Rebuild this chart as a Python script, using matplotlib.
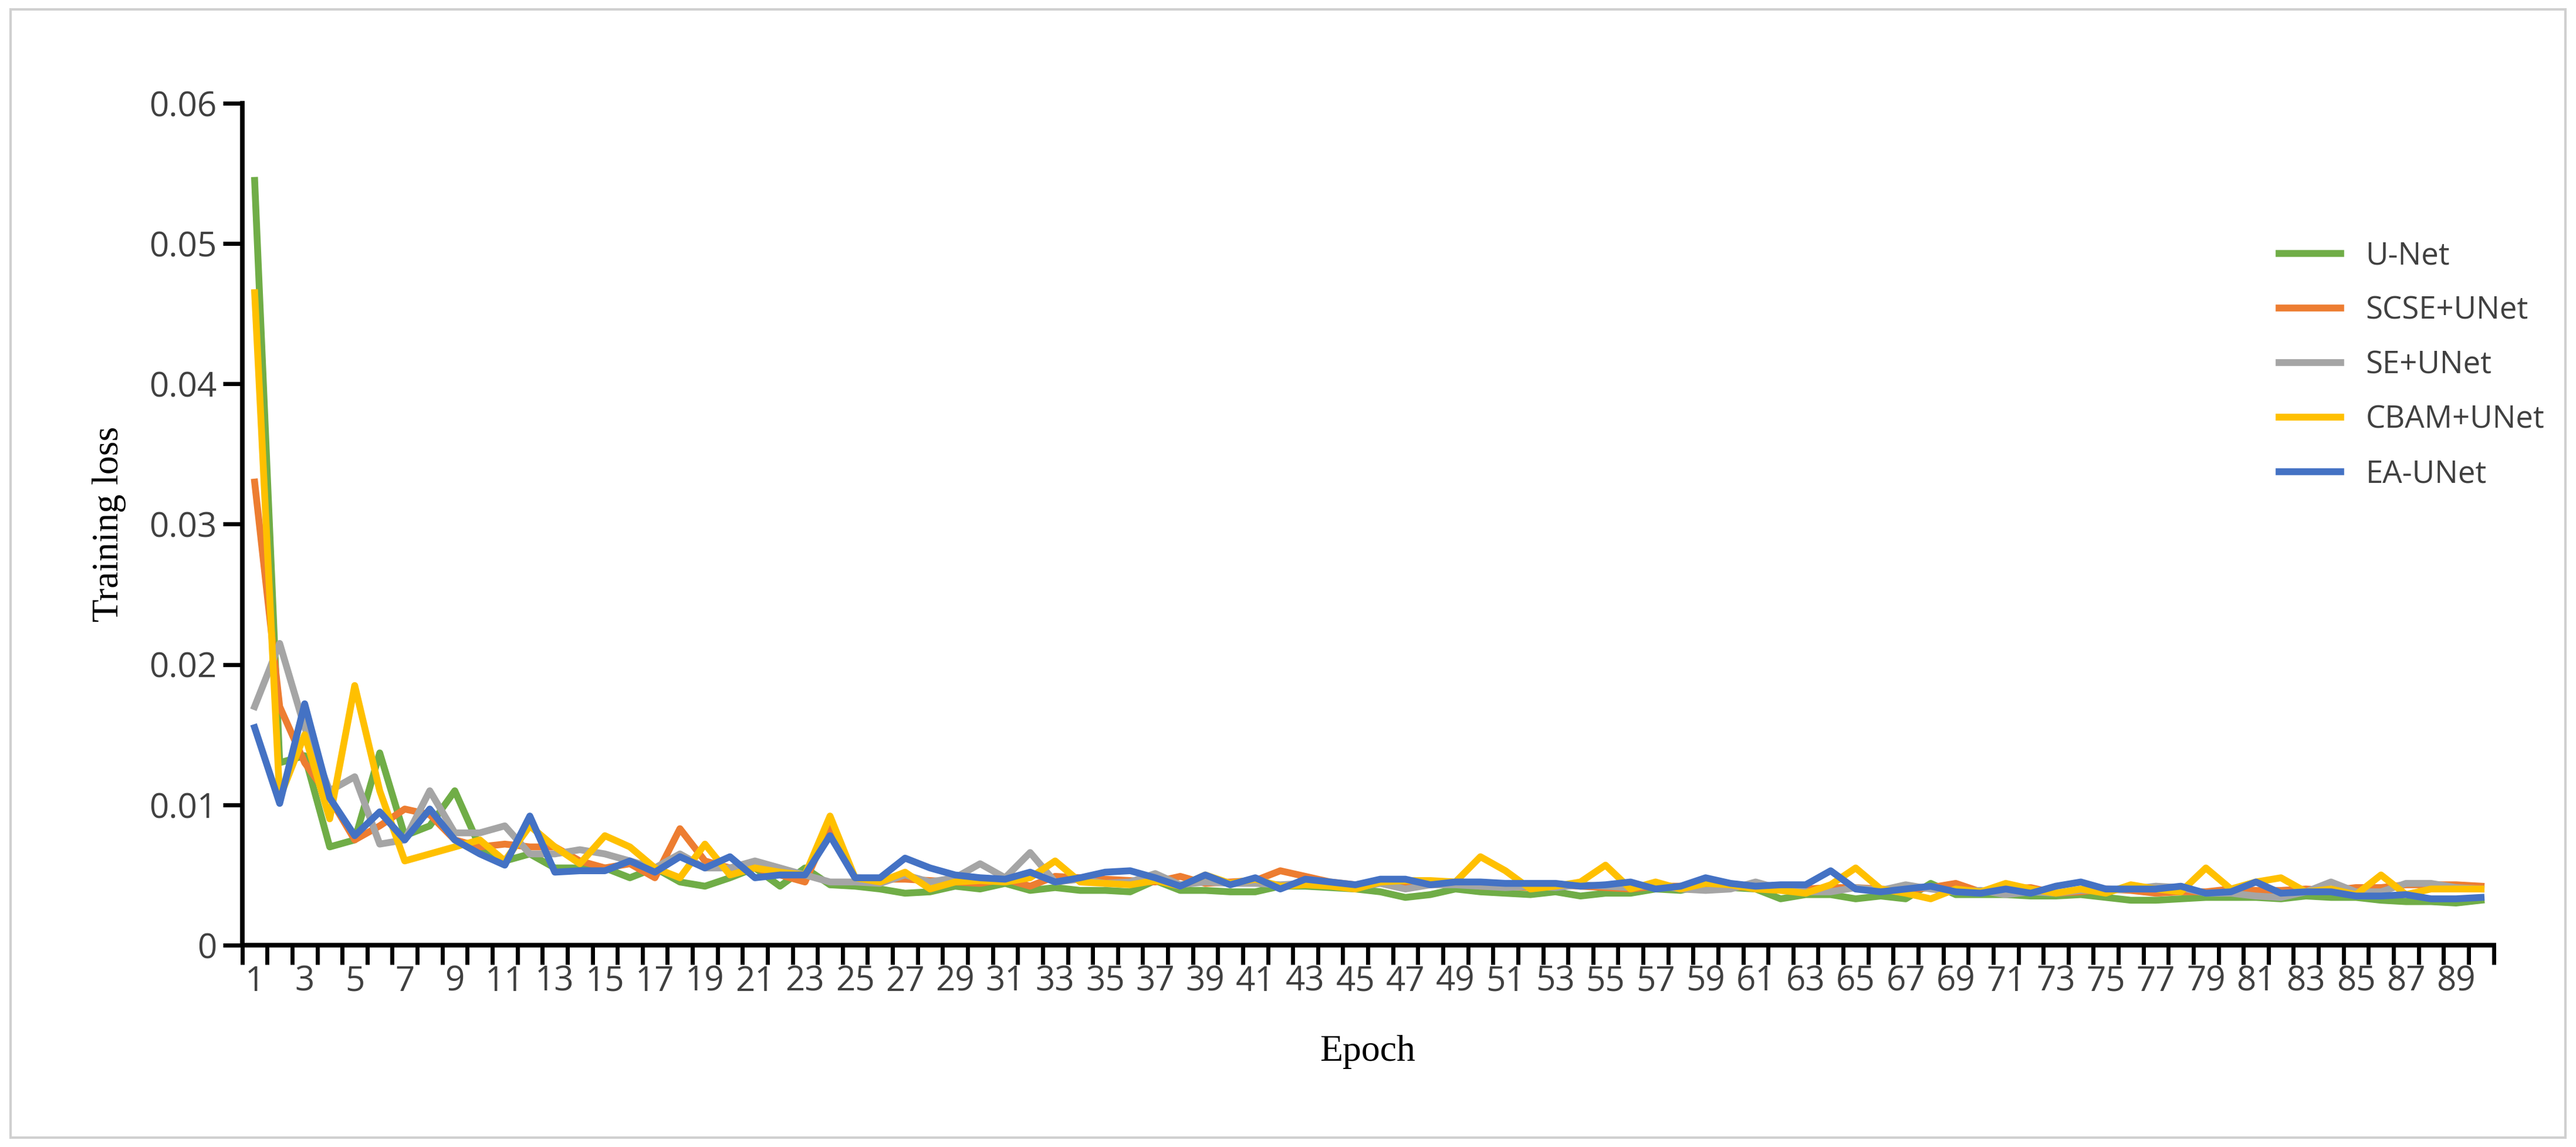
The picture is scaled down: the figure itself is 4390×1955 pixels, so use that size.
import numpy as np
import matplotlib.pyplot as plt
from matplotlib.patches import Rectangle

epochs = list(range(1, 91))

unet = [0.0545, 0.0130, 0.0135, 0.0070, 0.0075, 0.0137, 0.0078, 0.0085, 0.0110, 0.0070,
        0.0060, 0.0065, 0.0055, 0.0055, 0.0055, 0.0048, 0.0055, 0.0045, 0.0042, 0.0048,
        0.0055, 0.0042, 0.0055, 0.0043, 0.0042, 0.0040, 0.0037, 0.0038, 0.0042, 0.0040,
        0.0044, 0.0039, 0.0041, 0.0039, 0.0039, 0.0038, 0.0046, 0.0039, 0.0039, 0.0038,
        0.0038, 0.0042, 0.0042, 0.0041, 0.0040, 0.0038, 0.0034, 0.0036, 0.0040, 0.0038,
        0.0037, 0.0036, 0.0038, 0.0035, 0.0037, 0.0037, 0.0040, 0.0039, 0.0043, 0.0041,
        0.0040, 0.0033, 0.0036, 0.0036, 0.0033, 0.0035, 0.0033, 0.0044, 0.0036, 0.0036,
        0.0036, 0.0035, 0.0035, 0.0036, 0.0034, 0.0032, 0.0032, 0.0033, 0.0034, 0.0034,
        0.0034, 0.0033, 0.0035, 0.0034, 0.0034, 0.0032, 0.0031, 0.0031, 0.0030, 0.0032]
scse = [0.0330, 0.0170, 0.0130, 0.0105, 0.0075, 0.0085, 0.0097, 0.0093, 0.0075, 0.0070,
        0.0072, 0.0070, 0.0070, 0.0060, 0.0055, 0.0058, 0.0048, 0.0083, 0.0060, 0.0055,
        0.0055, 0.0050, 0.0045, 0.0085, 0.0048, 0.0047, 0.0047, 0.0046, 0.0045, 0.0044,
        0.0047, 0.0042, 0.0049, 0.0048, 0.0047, 0.0046, 0.0045, 0.0049, 0.0044, 0.0045,
        0.0046, 0.0053, 0.0049, 0.0045, 0.0043, 0.0045, 0.0043, 0.0044, 0.0044, 0.0042,
        0.0042, 0.0041, 0.0043, 0.0042, 0.0041, 0.0040, 0.0042, 0.0042, 0.0043, 0.0041,
        0.0042, 0.0040, 0.0040, 0.0041, 0.0041, 0.0040, 0.0039, 0.0041, 0.0044, 0.0038,
        0.0040, 0.0041, 0.0037, 0.0038, 0.0040, 0.0039, 0.0037, 0.0038, 0.0038, 0.0040,
        0.0039, 0.0039, 0.0040, 0.0039, 0.0041, 0.0041, 0.0043, 0.0043, 0.0043, 0.0042]
se = [0.0170, 0.0215, 0.0155, 0.0110, 0.0120, 0.0072, 0.0075, 0.0110, 0.0080, 0.0080,
      0.0085, 0.0065, 0.0065, 0.0068, 0.0065, 0.0060, 0.0055, 0.0065, 0.0055, 0.0055,
      0.0060, 0.0055, 0.0050, 0.0045, 0.0045, 0.0044, 0.0050, 0.0045, 0.0048, 0.0058,
      0.0048, 0.0066, 0.0045, 0.0047, 0.0044, 0.0045, 0.0051, 0.0043, 0.0045, 0.0044,
      0.0044, 0.0043, 0.0044, 0.0043, 0.0041, 0.0044, 0.0040, 0.0043, 0.0043, 0.0042,
      0.0041, 0.0042, 0.0041, 0.0043, 0.0042, 0.0041, 0.0043, 0.0040, 0.0039, 0.0040,
      0.0045, 0.0040, 0.0038, 0.0038, 0.0041, 0.0039, 0.0043, 0.0040, 0.0038, 0.0039,
      0.0036, 0.0038, 0.0037, 0.0039, 0.0039, 0.0040, 0.0042, 0.0041, 0.0037, 0.0037,
      0.0035, 0.0034, 0.0038, 0.0045, 0.0038, 0.0038, 0.0044, 0.0044, 0.0041, 0.0040]
cbam = [0.0465, 0.0105, 0.0150, 0.0090, 0.0185, 0.0110, 0.0060, 0.0065, 0.0070, 0.0075,
        0.0060, 0.0085, 0.0070, 0.0058, 0.0078, 0.0070, 0.0055, 0.0048, 0.0072, 0.0050,
        0.0055, 0.0052, 0.0050, 0.0092, 0.0048, 0.0045, 0.0052, 0.0040, 0.0045, 0.0046,
        0.0045, 0.0048, 0.0060, 0.0045, 0.0044, 0.0043, 0.0046, 0.0042, 0.0050, 0.0044,
        0.0047, 0.0042, 0.0043, 0.0042, 0.0040, 0.0045, 0.0046, 0.0046, 0.0045, 0.0063,
        0.0053, 0.0040, 0.0042, 0.0045, 0.0057, 0.0040, 0.0045, 0.0040, 0.0044, 0.0043,
        0.0040, 0.0039, 0.0037, 0.0043, 0.0055, 0.0040, 0.0037, 0.0033, 0.0040, 0.0038,
        0.0044, 0.0040, 0.0037, 0.0040, 0.0037, 0.0043, 0.0040, 0.0038, 0.0055, 0.0040,
        0.0045, 0.0048, 0.0038, 0.0040, 0.0036, 0.0050, 0.0036, 0.0040, 0.0040, 0.0040]
ea = [0.0155, 0.0101, 0.0172, 0.0105, 0.0078, 0.0095, 0.0075, 0.0097, 0.0075, 0.0065,
      0.0057, 0.0092, 0.0052, 0.0053, 0.0053, 0.0060, 0.0052, 0.0063, 0.0055, 0.0063,
      0.0048, 0.0050, 0.0050, 0.0078, 0.0048, 0.0048, 0.0062, 0.0055, 0.0050, 0.0048,
      0.0047, 0.0052, 0.0045, 0.0048, 0.0052, 0.0053, 0.0048, 0.0042, 0.0050, 0.0043,
      0.0048, 0.0040, 0.0047, 0.0045, 0.0043, 0.0047, 0.0047, 0.0043, 0.0045, 0.0045,
      0.0044, 0.0044, 0.0044, 0.0042, 0.0043, 0.0045, 0.0040, 0.0042, 0.0048, 0.0044,
      0.0042, 0.0043, 0.0043, 0.0053, 0.0040, 0.0038, 0.0040, 0.0042, 0.0038, 0.0037,
      0.0040, 0.0037, 0.0042, 0.0045, 0.0040, 0.0040, 0.0040, 0.0042, 0.0037, 0.0038,
      0.0045, 0.0037, 0.0038, 0.0038, 0.0035, 0.0035, 0.0036, 0.0033, 0.0033, 0.0034]

series = [("U-Net", unet, "#70AD47"), ("SCSE+UNet", scse, "#ED7D31"),
          ("SE+UNet", se, "#A5A5A5"), ("CBAM+UNet", cbam, "#FFC000"),
          ("EA-UNet", ea, "#4472C4")]

fig = plt.figure(figsize=(21.95, 9.775), dpi=200)
fig.patches.append(Rectangle((0.004, 0.008), 0.992, 0.984, transform=fig.transFigure,
                             fill=False, edgecolor="#d0d0d0", linewidth=1.5))
ax = fig.add_axes([0.094, 0.176, 0.874, 0.734])

for name, vals, col in series:
    ax.plot(epochs, vals, color=col, linewidth=4.2, label=name, solid_joinstyle="round")

ax.set_xlim(0.5, 90.5)
ax.set_ylim(0, 0.06)
ax.set_yticks(np.arange(0, 0.061, 0.01))
ax.set_yticklabels(["0", "0.01", "0.02", "0.03", "0.04", "0.05", "0.06"])
# tick marks between categories, labels on odd epochs
ax.set_xticks(np.arange(0.5, 91, 1))
ax.set_xticklabels([])
ax.set_xticks(epochs[::2], minor=True)
ax.set_xticklabels([str(e) for e in epochs[::2]], minor=True)
ax.tick_params(axis="x", which="major", length=12, width=2.5, direction="out")
ax.tick_params(axis="x", which="minor", length=0, pad=12)
ax.tick_params(axis="y", length=12, width=2.5, direction="out")
ax.tick_params(which="both", labelsize=21, labelcolor="#404040")
for lab in ax.get_xticklabels(minor=True) + ax.get_yticklabels():
    lab.set_fontfamily("Open Sans")

for s in ["top", "right"]:
    ax.spines[s].set_visible(False)
for s in ["left", "bottom"]:
    ax.spines[s].set_linewidth(2.8)

ax.set_xlabel("Epoch", family="Liberation Serif", fontsize=23, labelpad=22)
ax.set_ylabel("Training loss", family="Liberation Serif", fontsize=23, labelpad=14)

leg = ax.legend(loc="upper right", bbox_to_anchor=(1.035, 0.87), frameon=False,
                prop={"family": "Open Sans", "size": 19}, labelspacing=0.75,
                handlelength=2.0)
for t in leg.get_texts():
    t.set_color("#404040")

fig.savefig("out.png", dpi=200)
